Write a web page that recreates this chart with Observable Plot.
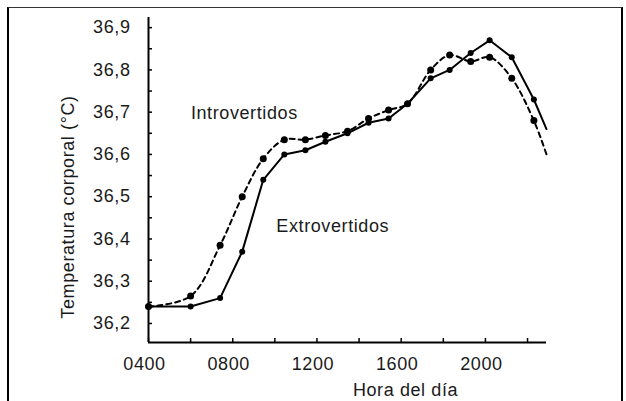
<!DOCTYPE html>
<html>
<head>
<meta charset="utf-8">
<script src="https://cdn.jsdelivr.net/npm/d3@7"></script>
<script src="https://cdn.jsdelivr.net/npm/@observablehq/plot@0.6"></script>
<style>
  html, body { margin: 0; padding: 0; background: #fff; }
  body { width: 626px; height: 401px; position: relative; overflow: hidden; }
  #chart { position: absolute; left: 0; top: 0; }
  #frame { position: absolute; left: 7px; top: 7px; width: 612px; height: 400px;
           border-left: 2px solid #000; border-right: 2px solid #000; border-top: 1.5px solid #333; }
</style>
</head>
<body>
<div id="frame"></div>
<div id="chart"></div>
<script>
// Hour of day (decimal) for each reading
const hours = [4.0, 6.0, 7.4, 8.45, 9.45, 10.45, 11.45, 12.4, 13.45, 14.45, 15.4, 16.3, 17.4, 18.3, 19.3, 20.2, 21.25, 22.3, 22.9];
// Body temperature (°C), dashed curve
const introvertidos = [36.24, 36.265, 36.385, 36.50, 36.59, 36.635, 36.635, 36.645, 36.655, 36.685, 36.705, 36.72, 36.80, 36.835, 36.82, 36.83, 36.78, 36.68, 36.60];
// Body temperature (°C), solid curve
const extrovertidos = [36.24, 36.24, 36.26, 36.37, 36.54, 36.60, 36.61, 36.63, 36.65, 36.675, 36.685, 36.72, 36.78, 36.80, 36.84, 36.87, 36.83, 36.73, 36.66];

const xTicks = [4, 8, 12, 16, 20];
const xTickLabels = ["0400", "0800", "1200", "1600", "2000"];
const xMinorTicks = [4, 6, 8, 10, 12, 14, 16, 18, 20, 22];
const yTicks = [36.2, 36.3, 36.4, 36.5, 36.6, 36.7, 36.8, 36.9];
const yTickLabels = ["36,2", "36,3", "36,4", "36,5", "36,6", "36,7", "36,8", "36,9"];
const yMinorTicks = [36.2, 36.25, 36.3, 36.35, 36.4, 36.45, 36.5, 36.55, 36.6, 36.65, 36.7, 36.75, 36.8, 36.85, 36.9];

const seriesLabels = [
  {text: "Introvertidos", h: 8.55, t: 36.697},
  {text: "Extrovertidos", h: 12.75, t: 36.429}
];

const xDomain = [4, 22.9];
const yDomain = [36.155, 36.924];

const rows = hours.map((h, i) => ({h, intro: introvertidos[i], extro: extrovertidos[i], marked: i < hours.length - 1}));
const marked = rows.filter(d => d.marked);

const font = "'Liberation Sans', Arial, Helvetica, sans-serif";
const ink = "#1a1a1a";

const axisMarks = [
  Plot.axisY({ticks: yMinorTicks, anchor: "left", tickSize: -4, tickFormat: () => "", label: null, stroke: "#000", strokeWidth: 1.5}),
  Plot.axisX({ticks: xMinorTicks, anchor: "bottom", tickSize: -4, tickFormat: () => "", label: null, stroke: "#000", strokeWidth: 1.5}),
  Plot.axisY({ticks: yTicks, anchor: "left", tickSize: 0, tickPadding: 18, label: null,
    tickFormat: d => yTickLabels[yTicks.indexOf(d)], fontSize: 18, fill: ink}),
  Plot.axisX({ticks: xTicks, anchor: "bottom", tickSize: 0, tickPadding: 15, dx: -4, label: null,
    tickFormat: d => xTickLabels[xTicks.indexOf(d)], fontSize: 18, fill: ink})
];

const chart = Plot.plot({
  width: 626,
  height: 401,
  marginLeft: 148,
  marginRight: 80,
  marginTop: 17,
  marginBottom: 59,
  style: {fontFamily: font, fontSize: "18px", color: ink, background: "transparent", overflow: "visible"},
  x: {domain: xDomain},
  y: {domain: yDomain},
  marks: [
    ...axisMarks,
    Plot.ruleX([xDomain[0]], {stroke: "#000", strokeWidth: 2}),
    Plot.ruleY([yDomain[0]], {stroke: "#000", strokeWidth: 2}),
    Plot.text(["Temperatura corporal (°C)"], {frameAnchor: "left", textAnchor: "middle", lineAnchor: "middle",
      rotate: -90, dx: -80, dy: 27, fontSize: 18, fill: ink}),
    Plot.text(["Hora del día"], {frameAnchor: "bottom", textAnchor: "middle", lineAnchor: "middle",
      dx: 58, dy: 48, fontSize: 18, fill: ink}),
    Plot.line(rows, {x: "h", y: "intro", stroke: "#000", strokeWidth: 2, strokeDasharray: "5,4", curve: "catmull-rom"}),
    Plot.line(rows, {x: "h", y: "extro", stroke: "#000", strokeWidth: 2}),
    Plot.dot(marked, {x: "h", y: "intro", r: 3.5, fill: "#000"}),
    Plot.dot(marked, {x: "h", y: "extro", r: 3, fill: "#000"}),
    Plot.text(seriesLabels, {x: "h", y: "t", text: "text", fontSize: 18, fill: ink})
  ]
});
chart.style.letterSpacing = "0.6px";
document.getElementById("chart").appendChild(chart);
</script>
</body>
</html>
